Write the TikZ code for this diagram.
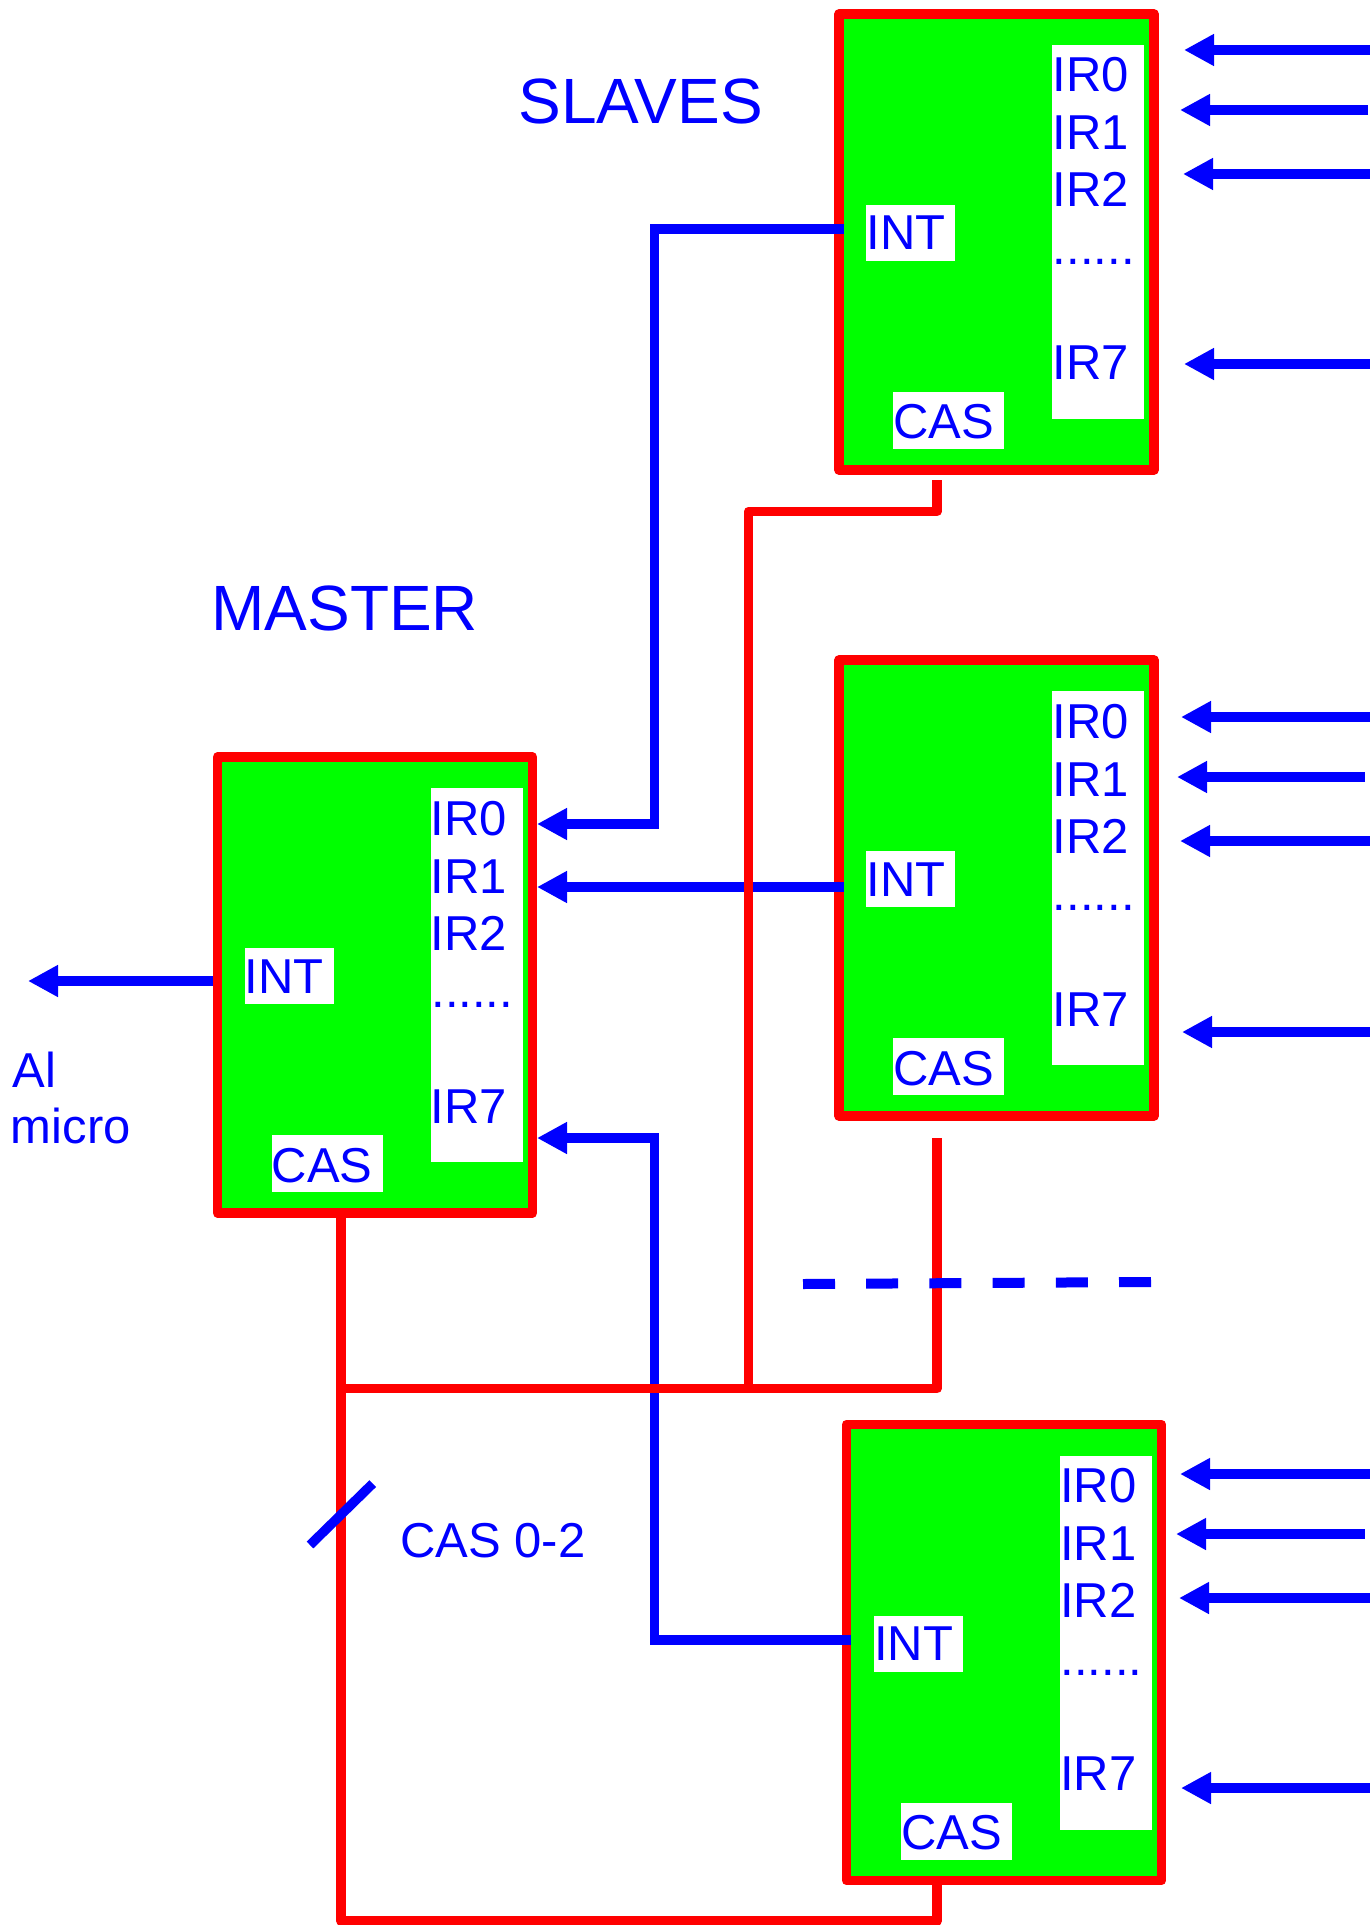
\documentclass[tikz,border=0pt]{standalone}
\usepackage{fontspec}
\setmainfont{Liberation Sans}
\usetikzlibrary{arrows.meta}
\definecolor{cred}{RGB}{255,0,0}
\definecolor{cblue}{RGB}{0,0,255}
\definecolor{cgreen}{RGB}{0,255,0}
\tikzset{
  chipbox/.style={draw=cred, fill=cgreen, line width=4.75pt, line join=round,
    minimum width=157.5pt, minimum height=228pt, inner sep=0pt, outer sep=0pt, anchor=north west},
  wbox/.style={fill=white, inner sep=0pt, outer sep=0pt, anchor=north west},
  lbl/.style={text=cblue, font=\fontsize{24.5pt}{29pt}\selectfont, inner sep=0pt, anchor=base west},
  ttl/.style={text=cblue, font=\fontsize{32pt}{38pt}\selectfont, inner sep=0pt, anchor=base west},
  bw/.style={draw=cblue, line width=4.65pt},
  bwa/.style={bw, -{Triangle[length=15pt,width=15pt]}},
  rw/.style={draw=cred, line width=4.75pt, line join=round},
}
\newcommand\chipat[3]{%
  \node[chipbox] (#1) at (#2,#3) {};
  \node[wbox, minimum width=46pt, minimum height=187pt] (#1p) at (#2+213,#3+31) {};
  \node[wbox, minimum width=44.5pt, minimum height=28pt] (#1ib) at (#2+27,#3+191) {};
  \node[wbox, minimum width=55.5pt, minimum height=28.5pt] (#1cb) at (#2+54,#3+378) {};
  \node[lbl] (#1i0) at (#2+213,#3+78) {IR0};
  \node[lbl] (#1i1) at (#2+213,#3+136) {IR1};
  \node[lbl] (#1i2) at (#2+213,#3+193) {IR2};
  \node[lbl] (#1id) at (#2+213.5,#3+250.5) {......};
  \node[lbl] (#1i7) at (#2+213,#3+366) {IR7};
  \node[lbl] (#1int) at (#2+27,#3+236) {INT};
  \node[lbl] (#1cas) at (#2+54,#3+425) {CAS};
}
\begin{document}
\begin{tikzpicture}[x=0.5pt,y=-0.5pt]
\useasboundingbox (0,0) rectangle (1369,1925);
% chips
\chipat{s1}{839}{14}
\chipat{s2}{839}{660}
\chipat{s3}{846.6}{1424.5}
\chipat{m}{217.5}{757}
% titles and labels
\node[ttl] (slaves) at (518,123.3) {SLAVES};
\node[ttl] (master) at (211,630.7) {MASTER};
\node[lbl] (al) at (12,1087) {Al};
\node[lbl] (micro) at (10.5,1143) {micro};
\node[lbl] (cas02) at (400,1557) {CAS 0-2};
% connector coordinates
\coordinate (s1o) at (843.5,229);
\coordinate (s2o) at (843.5,887);
\coordinate (s3o) at (851.3,1640);
\coordinate (mi0) at (537,824);
\coordinate (mi1) at (537,887);
\coordinate (mi7) at (537,1138);
\coordinate (mo) at (213,981);
\coordinate (mout) at (28,981);
% input arrows to slaves
\foreach \n/\ya/\xa/\yb/\xb/\yc/\xc/\yd/\xd/\xe in
  {s1/50/1184/110/1180/174/1183/364/1184/1368,
   s2/717/1181/777/1177/841/1180/1032/1182/1365,
   s3/1474/1180/1534/1176/1598/1179/1788/1181/1364.5}{
  \coordinate (\n a0) at (1372,\ya); \coordinate (\n t0) at (\xa,\ya);
  \coordinate (\n a1) at (\xe,\yb);  \coordinate (\n t1) at (\xb,\yb);
  \coordinate (\n a2) at (1372,\yc); \coordinate (\n t2) at (\xc,\yc);
  \coordinate (\n a7) at (1372,\yd); \coordinate (\n t7) at (\xd,\yd);
  \draw[bwa] (\n a0) -- (\n t0);
  \draw[bwa] (\n a1) -- (\n t1);
  \draw[bwa] (\n a2) -- (\n t2);
  \draw[bwa] (\n a7) -- (\n t7);
}
% INT connectors (blue)
\draw[bwa] (s1o) -- (654.5,229) -- (654.5,824) -- (mi0);
\draw[bwa] (s2o) -- (mi1);
\draw[bwa] (s3o) -- (654.5,1640) -- (654.5,1138) -- (mi7);
\draw[bwa] (mo) -- (mout);
% CAS bus (red)
\coordinate (s1c) at (937,480);
\coordinate (s2c) at (937,1138);
\coordinate (s3c) at (937,1881);
\coordinate (mc) at (341,1214);
\draw[rw] (s1c) -- (937,511.5) -- (748.5,511.5) -- (748.5,1388.7);
\draw[rw] (mc) -- (341,1921) -- (937,1921) -- (s3c);
\draw[rw] (341,1388.7) -- (937,1388.7) -- (s2c);
% dashed continuation and bus slash
\coordinate (dl) at (803,1284);
\coordinate (dr) at (1151,1282);
\draw[draw=cblue, line width=5pt, dash pattern=on 16pt off 15.6pt] (dl) -- (dr);
\coordinate (sl1) at (310,1545);
\coordinate (sl2) at (372.7,1483.6);
\draw[bw, line width=4.75pt] (sl1) -- (sl2);
\end{tikzpicture}
\end{document}
